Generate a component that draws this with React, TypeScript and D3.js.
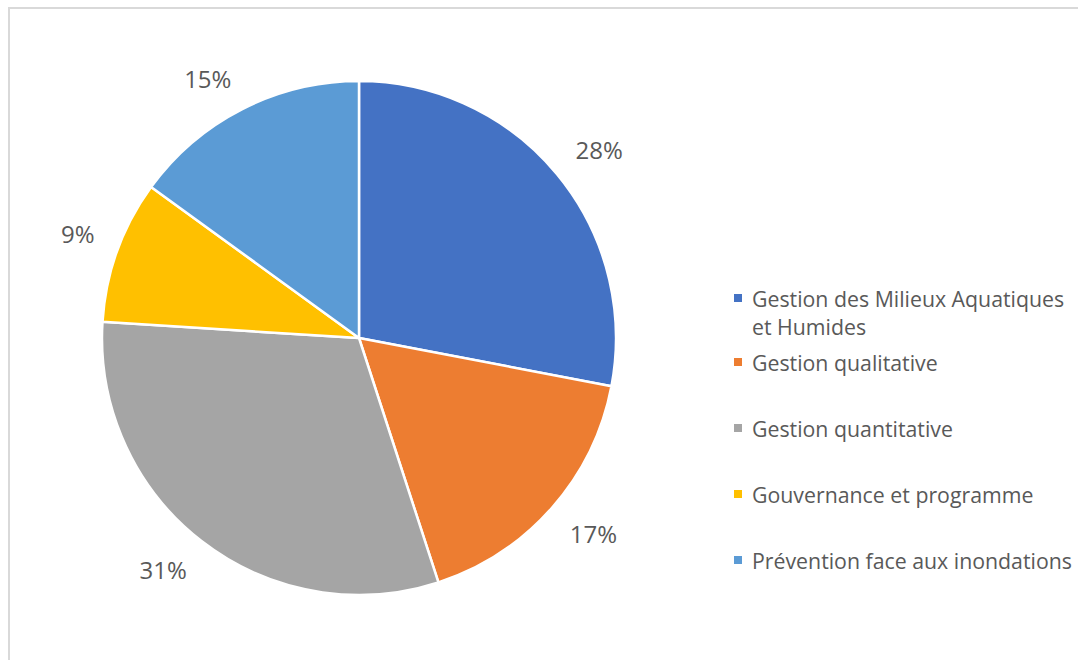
import React from "react";
import * as d3 from "d3";

const categories = [
  "Gestion des Milieux Aquatiques et Humides",
  "Gestion qualitative",
  "Gestion quantitative",
  "Gouvernance et programme",
  "Prévention face aux inondations",
];
const values = [28, 17, 31, 9, 15];
const colors = ["#4472C4", "#ED7D31", "#A5A5A5", "#FFC000", "#5B9BD5"];
const legendLines = [
  ["Gestion des Milieux Aquatiques", "et Humides"],
  ["Gestion qualitative"],
  ["Gestion quantitative"],
  ["Gouvernance et programme"],
  ["Prévention face aux inondations"],
];

const W = 1078;
const H = 660;
const cx = 359;
const cy = 338;
const R = 257;
const labelR = 281;
const labelDy = 9.5;
const font = "'Open Sans', 'Noto Sans', sans-serif";

export default function App() {
  const pie = d3.pie<number>().value((d) => d).sort(null);
  const arcs = pie(values);
  const arcGen = d3.arc<d3.PieArcDatum<number>>().innerRadius(0).outerRadius(R);
  const legendY = [298, 362, 428, 494, 560];
  return (
    <svg width={W} height={H} style={{ position: "absolute", left: 0, top: 0, background: "#fff" }}>
      <rect x={9} y={8} width={W + 20} height={H + 20} fill="#fff" stroke="#d9d9d9" strokeWidth={2} />
      <g transform={`translate(${cx},${cy})`}>
        {arcs.map((a, i) => (
          <path key={i} d={arcGen(a) || ""} fill={colors[i]} stroke="#fff" strokeWidth={2.5} strokeLinejoin="round" />
        ))}
        {arcs.map((a, i) => {
          const mid = (a.startAngle + a.endAngle) / 2;
          const sx = Math.sin(mid);
          const sy = -Math.cos(mid);
          const x = sx * labelR;
          const y = sy * labelR + Math.sign(sy) * labelDy;
          return (
            <text key={i} x={x} y={y} textAnchor={sx >= 0 ? "start" : "end"} dominantBaseline="central" fontFamily={font} fontSize={24} fill="#595959">
              {`${values[i]}%`}
            </text>
          );
        })}
      </g>
      <g>
        {categories.map((c, i) => (
          <g key={c}>
            <rect x={734} y={legendY[i] - 4} width={8} height={8} fill={colors[i]} />
            {legendLines[i].map((ln, j) => (
              <text key={j} x={752} y={legendY[i] + j * 28} dominantBaseline="central" fontFamily={font} fontSize={21.3} fill="#595959">
                {ln}
              </text>
            ))}
          </g>
        ))}
      </g>
    </svg>
  );
}
